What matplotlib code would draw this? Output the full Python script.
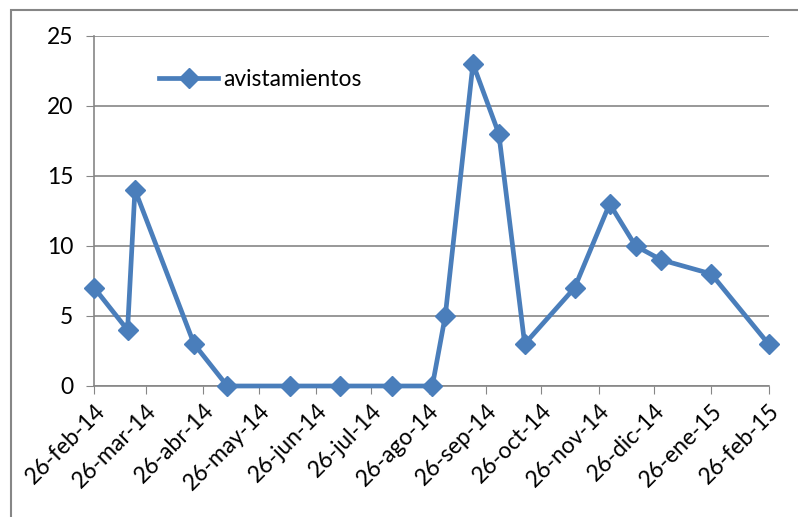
import matplotlib
matplotlib.use('Agg')
import matplotlib.pyplot as plt
from matplotlib.patches import Rectangle
import pandas as pd

# sighting dates and counts
fechas = ['2014-02-26', '2014-03-16', '2014-03-20', '2014-04-21', '2014-05-09',
          '2014-06-12', '2014-07-09', '2014-08-06', '2014-08-28', '2014-09-04',
          '2014-09-19', '2014-10-03', '2014-10-17', '2014-11-13', '2014-12-02',
          '2014-12-16', '2014-12-30', '2015-01-26', '2015-02-26']
avistamientos = [7, 4, 14, 3, 0, 0, 0, 0, 0, 5, 23, 18, 3, 7, 13, 10, 9, 8, 3]

tick_fechas = ['2014-02-26', '2014-03-26', '2014-04-26', '2014-05-26', '2014-06-26',
               '2014-07-26', '2014-08-26', '2014-09-26', '2014-10-26', '2014-11-26',
               '2014-12-26', '2015-01-26', '2015-02-26']
tick_labels = ['26-feb-14', '26-mar-14', '26-abr-14', '26-may-14', '26-jun-14',
               '26-jul-14', '26-ago-14', '26-sep-14', '26-oct-14', '26-nov-14',
               '26-dic-14', '26-ene-15', '26-feb-15']

plt.rcParams['font.family'] = ['Lato', 'DejaVu Sans']

W, H = 798, 517
fig = plt.figure(figsize=(W / 100, H / 100), dpi=100)
ax = fig.add_axes([94.3 / W, 1 - 386 / H, (768.5 - 94.3) / W, (386 - 35.7) / H])

# chart area border
fig.patches.append(Rectangle((11 / W, -0.05), 1.1, 1 - 10 / H + 0.05,
                             transform=fig.transFigure, fill=False,
                             edgecolor='#868686', linewidth=1.5))

x = pd.to_datetime(fechas)
line_color = '#4A7EBB'
ax.plot(x, avistamientos, color=line_color, linewidth=3.4, marker='D',
        markersize=10.5, label='avistamientos', zorder=3, clip_on=False)

ax.set_xlim(pd.Timestamp('2014-02-26'), pd.Timestamp('2015-02-26'))
ax.set_ylim(0, 25)
ax.set_yticks([0, 5, 10, 15, 20, 25])
ax.set_xticks(pd.to_datetime(tick_fechas))
ax.set_xticklabels(tick_labels, rotation=45, ha='right', rotation_mode='anchor')

ax.yaxis.grid(True, color='#868686', linewidth=1.2)
ax.set_axisbelow(True)
for s in ['top', 'right']:
    ax.spines[s].set_visible(False)
for s in ['left', 'bottom']:
    ax.spines[s].set_color('#868686')
    ax.spines[s].set_linewidth(1.2)

ax.tick_params(axis='y', labelsize=16.5, length=6, color='#868686', pad=9)
ax.tick_params(axis='x', labelsize=16.5, length=6, color='#868686', pad=4)

ax.legend(loc='upper left', bbox_to_anchor=(0.065, 0.965), frameon=False,
          fontsize=16.5, handlelength=2.6, handletextpad=0.2)

fig.savefig('out.png', dpi=100)
